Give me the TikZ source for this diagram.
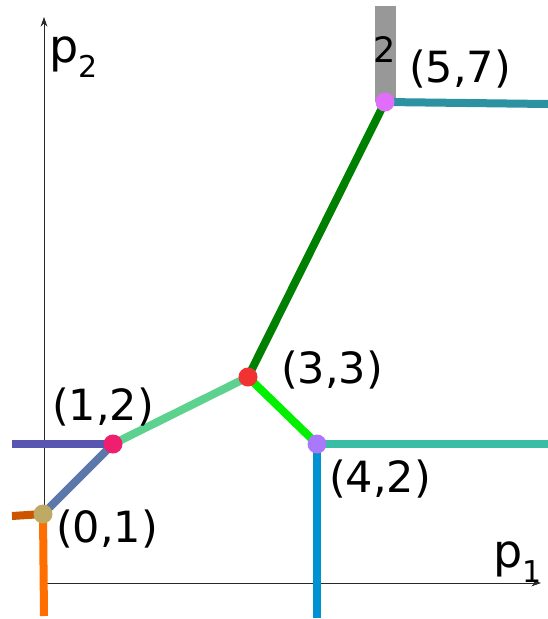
\documentclass[tikz,border=0pt]{standalone}
\usepackage{fontspec}
\setmainfont{DejaVu Sans}
\usetikzlibrary{arrows.meta}
\definecolor{AxisGray}{RGB}{40,40,40}
\definecolor{BarGray}{RGB}{152,152,152}
\definecolor{DeepGreen}{RGB}{0,128,0}
\definecolor{SoftGreen}{RGB}{92,210,142}
\definecolor{LimeGreen}{RGB}{0,240,0}
\definecolor{SeaTeal}{RGB}{55,190,165}
\definecolor{OceanTeal}{RGB}{44,145,160}
\definecolor{SkyBlue}{RGB}{0,145,210}
\definecolor{IndigoLine}{RGB}{88,86,176}
\definecolor{SlateLine}{RGB}{92,120,170}
\definecolor{RustLine}{RGB}{205,85,0}
\definecolor{OrangeLine}{RGB}{255,110,0}
\definecolor{DotOlive}{RGB}{190,170,100}
\definecolor{DotPink}{RGB}{240,30,110}
\definecolor{DotRed}{RGB}{240,50,50}
\definecolor{DotLavender}{RGB}{170,120,250}
\definecolor{DotMagenta}{RGB}{225,110,250}
\newcommand{\axsub}[2]{#1\raisebox{-15pt}{\fontsize{30}{30}\selectfont #2}}
\tikzset{
  axis/.style={-{Stealth[length=3.4mm,width=2.4mm]},draw=AxisGray,line width=0.8pt},
  ray/.style={line width=8pt},
  vtx/.style={circle,inner sep=0pt,minimum size=19pt},
  lbl/.style={font=\fontsize{43}{43}\selectfont,inner sep=0pt,anchor=base west},
  axlbl/.style={font=\fontsize{46}{46}\selectfont,inner sep=0pt,anchor=base west}
}
\begin{document}
\begin{tikzpicture}[x=1pt,y=-1pt]
  \useasboundingbox (0,0) rectangle (548,619);
  % axes
  \coordinate (origin) at (44,583);
  \coordinate (xend) at (541,583);
  \coordinate (yend) at (44,17);
  \draw[axis] (origin) -- (xend);
  \draw[axis] (origin) -- (yend);
  \node[axlbl] (xlabel) at (493,567) {\axsub{p}{1}};
  \node[axlbl] (ylabel) at (49,62) {\axsub{p}{2}};
  % edges
  \coordinate (v01) at (43,514);
  \coordinate (v12) at (113,444);
  \coordinate (v33) at (248,377);
  \coordinate (v42) at (317,444);
  \coordinate (v57) at (385,102);
  % free ends
  \coordinate (topend) at (385,6);
  \coordinate (rightA) at (548,104);
  \coordinate (rightB) at (548,444);
  \coordinate (downB) at (317,618);
  \coordinate (leftA) at (12,444);
  \coordinate (leftB) at (12,516);
  \coordinate (downA) at (44,616);
  \draw[line width=21pt,BarGray] (v57) -- (topend);
  \node[font=\fontsize{35}{35}\selectfont,inner sep=0pt,anchor=base] (mult) at (385,62) {2};
  \draw[ray,OceanTeal] (v57) -- (rightA);
  \draw[ray,DeepGreen] (v57) -- (v33);
  \draw[ray,SoftGreen] (v12) -- (v33);
  \draw[ray,LimeGreen] (v33) -- (v42);
  \draw[ray,SeaTeal] (v42) -- (rightB);
  \draw[ray,SkyBlue] (v42) -- (downB);
  \draw[ray,IndigoLine] (leftA) -- (v12);
  \draw[ray,SlateLine] (v12) -- (v01);
  \draw[ray,RustLine] (leftB) -- (v01);
  \draw[ray,OrangeLine] (v01) -- (downA);
  % vertices
  \node[vtx,fill=DotOlive] (p01) at (v01) {};
  \node[vtx,fill=DotPink] (p12) at (v12) {};
  \node[vtx,fill=DotRed] (p33) at (v33) {};
  \node[vtx,fill=DotLavender] (p42) at (v42) {};
  \node[vtx,fill=DotMagenta] (p57) at (v57) {};
  % labels
  \node[lbl] (l01) at (56,542) {(0,1)};
  \node[lbl] (l12) at (52,420) {(1,2)};
  \node[lbl] (l33) at (281,383) {(3,3)};
  \node[lbl] (l42) at (329,492) {(4,2)};
  \node[lbl] (l57) at (409,82) {(5,7)};
\end{tikzpicture}
\end{document}
